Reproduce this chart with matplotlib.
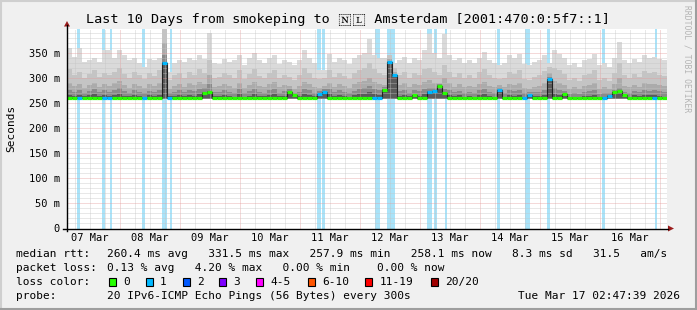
import numpy as np
import pandas as pd
import matplotlib
matplotlib.use("Agg")
import matplotlib.pyplot as plt
from matplotlib import font_manager
from matplotlib.ft2font import FT2Font
from matplotlib.patches import Rectangle, Polygon
from matplotlib.lines import Line2D

W, H = 697, 310
MONO = "DejaVu Sans Mono"

title_left = "Last 10 Days from smokeping to "
title_flag = "\U0001F1F3\U0001F1F1"
title_right = " Amsterdam [2001:470:0:5f7::1]"
start = pd.Timestamp("2026-03-07 02:47:39")
end = pd.Timestamp("2026-03-17 02:47:39")

# smoke, 2 hour bins, ms (sorted ping ranks: max, 19th, 17th, 15th, 13th of 20)
ping_max = [
    360, 342, 360, 332, 335, 340, 332, 355, 355, 340,
    355, 345, 335, 340, 330, 322, 338, 335, 340, 398,
    312, 330, 335, 332, 340, 336, 345, 338, 390, 330,
    328, 338, 332, 335, 345, 325, 340, 350, 335, 330,
    340, 345, 328, 336, 332, 325, 335, 355, 340, 330,
    315, 315, 348, 332, 340, 335, 328, 340, 345, 350,
    378, 345, 340, 340, 335, 330, 335, 342, 330, 340,
    335, 355, 388, 350, 340, 388, 345, 335, 340, 330,
    335, 330, 340, 352, 335, 330, 326, 330, 345, 340,
    348, 328, 326, 332, 335, 345, 330, 355, 348, 340,
    325, 330, 322, 335, 338, 348, 325, 330, 322, 340,
    372, 335, 330, 338, 332, 345, 340, 342, 338, 335,
]
ping_19 = [
    318, 305, 312, 300, 308, 315, 302, 310, 306, 312,
    320, 308, 300, 312, 305, 298, 310, 304, 315, 398,
    295, 305, 310, 300, 312, 306, 318, 310, 335, 300,
    302, 310, 305, 300, 315, 298, 308, 318, 304, 300,
    310, 316, 300, 306, 302, 296, 305, 320, 310, 300,
    298, 300, 315, 302, 310, 304, 298, 310, 316, 320,
    330, 318, 310, 305, 345, 320, 305, 312, 300, 310,
    305, 318, 320, 312, 305, 325, 312, 302, 310, 300,
    305, 300, 312, 318, 305, 300, 298, 300, 312, 308,
    315, 298, 296, 302, 305, 314, 322, 320, 315, 308,
    296, 300, 294, 305, 308, 316, 296, 300, 294, 310,
    330, 305, 300, 308, 302, 314, 310, 312, 306, 304,
]
ping_17 = [
    290, 284, 288, 280, 286, 290, 282, 288, 284, 290,
    294, 286, 280, 288, 284, 279, 287, 283, 290, 370,
    278, 284, 288, 281, 289, 285, 292, 287, 305, 281,
    283, 288, 284, 280, 290, 279, 286, 292, 284, 281,
    288, 291, 281, 285, 283, 278, 284, 292, 288, 281,
    280, 284, 290, 282, 288, 284, 279, 287, 291, 293,
    300, 292, 288, 286, 338, 312, 285, 289, 281, 288,
    285, 292, 295, 290, 290, 300, 289, 282, 287, 281,
    284, 281, 288, 292, 284, 281, 286, 281, 288, 286,
    290, 280, 278, 282, 284, 289, 310, 293, 290, 286,
    278, 281, 277, 284, 286, 290, 278, 281, 277, 287,
    300, 284, 281, 286, 282, 289, 287, 288, 285, 283,
]
ping_15 = [
    276, 272, 275, 270, 274, 277, 271, 275, 272, 276,
    279, 273, 270, 275, 272, 269, 274, 271, 276, 345,
    270, 272, 275, 271, 276, 273, 278, 280, 288, 271,
    272, 275, 272, 270, 277, 269, 273, 278, 272, 270,
    275, 277, 270, 273, 278, 270, 272, 278, 275, 270,
    274, 278, 277, 271, 275, 272, 269, 274, 277, 279,
    284, 278, 275, 282, 334, 308, 273, 276, 270, 275,
    273, 278, 280, 280, 288, 278, 276, 271, 274, 270,
    272, 270, 275, 278, 272, 270, 280, 270, 275, 273,
    276, 270, 272, 271, 272, 276, 302, 279, 276, 274,
    268, 270, 267, 272, 273, 276, 268, 270, 270, 275,
    280, 272, 270, 274, 271, 276, 274, 275, 273, 271,
]
ping_13 = [
    266, 264, 265, 263, 265, 267, 263, 265, 264, 266,
    268, 264, 263, 265, 264, 262, 265, 263, 266, 332,
    263, 264, 265, 263, 266, 264, 267, 272, 274, 263,
    264, 265, 264, 262, 267, 262, 264, 267, 264, 263,
    265, 267, 263, 264, 272, 266, 264, 267, 265, 263,
    268, 272, 267, 263, 265, 264, 262, 265, 267, 268,
    272, 268, 266, 277, 332, 306, 264, 266, 263, 266,
    264, 267, 273, 274, 285, 271, 266, 263, 265, 262,
    264, 262, 265, 267, 264, 262, 276, 262, 265, 264,
    266, 262, 266, 263, 264, 266, 298, 267, 266, 268,
    261, 262, 260, 264, 264, 266, 261, 262, 265, 272,
    274, 266, 262, 265, 263, 266, 265, 266, 264, 262,
]
ping_floor = 257.6

median = [
    260, 260, 260, 259, 260, 260, 260, 259, 260, 260,
    260, 260, 259, 260, 260, 260, 260, 259, 260, 330,
    260, 260, 260, 260, 259, 260, 260, 270, 272, 260,
    260, 260, 259, 260, 260, 260, 260, 259, 260, 260,
    260, 260, 260, 259, 271, 265, 260, 260, 260, 260,
    267, 271, 260, 260, 260, 259, 260, 260, 260, 260,
    260, 259, 260, 276, 332, 306, 260, 260, 259, 265,
    260, 260, 272, 273, 284, 270, 260, 260, 259, 260,
    260, 260, 260, 259, 260, 260, 276, 260, 260, 260,
    260, 259, 265, 260, 260, 260, 298, 260, 259, 268,
    260, 260, 260, 260, 260, 259, 260, 260, 264, 271,
    274, 265, 260, 260, 260, 259, 260, 260, 260, 260,
]
# lost pings (of 20) per bin
median_loss = [0] * 120
for b in [2, 7, 8, 15, 19, 20, 50, 51, 61, 62, 64, 65, 72, 73, 86, 91, 92, 96, 107, 108, 117]:
    median_loss[b] = 1

loss_start = ["03-07 06:47", "03-07 16:47", "03-07 20:00", "03-08 08:47", "03-08 16:47",
              "03-08 20:00", "03-11 06:47", "03-11 08:47", "03-12 06:00", "03-12 10:47",
              "03-13 02:47", "03-13 05:35", "03-13 10:00", "03-14 06:47", "03-14 18:00",
              "03-15 02:47", "03-16 00:47", "03-16 22:00"]
loss_end = ["03-07 07:59", "03-07 17:59", "03-07 20:47", "03-08 10:00", "03-08 18:47",
            "03-08 20:47", "03-11 08:23", "03-11 10:00", "03-12 08:00", "03-12 14:00",
            "03-13 04:47", "03-13 06:47", "03-13 10:47", "03-14 08:00", "03-14 20:00",
            "03-15 04:00", "03-16 02:00", "03-16 22:47"]

loss_labels = ["0", "1", "2", "3", "4-5", "6-10", "11-19", "20/20"]
loss_levels = [0, 1, 2, 3, 4, 6, 11, 20]
loss_colors = ["#26ff00", "#00b8ff", "#0059ff", "#7e00ff", "#ff00ff", "#ff5500", "#ff0000", "#a00000"]

rtt_stats = "260.4 ms avg   331.5 ms max   257.9 ms min   258.1 ms now   8.3 ms sd   31.5   am/s"
loss_stats = "0.13 % avg   4.20 % max   0.00 % min    0.00 % now"
probe_text = "20 IPv6-ICMP Echo Pings (56 Bytes) every 300s"
stamp = "Tue Mar 17 02:47:39 2026"


def hrs(ts):
    return (pd.Timestamp(ts) - start) / pd.Timedelta(hours=1)


def fx(x):
    return x / W


def fy(y):
    return 1 - y / H


def family_with(chars):
    # look for an installed font that really has these code points
    for path in font_manager.findSystemFonts():
        try:
            ft = FT2Font(path)
        except Exception:
            continue
        if all(ft.get_char_index(ord(c)) for c in chars):
            return font_manager.FontProperties(fname=path).get_name()
    return None


fig = plt.figure(figsize=(W / 100, H / 100), dpi=100, facecolor="#f0f0f0")

# frame shading
fig.add_artist(Line2D([0, 1], [fy(0.5), fy(0.5)], color="#cfcfcf", lw=1.5))
fig.add_artist(Line2D([fx(0.5), fx(0.5)], [0, 1], color="#cfcfcf", lw=1.5))
fig.add_artist(Line2D([0, 1], [fy(309), fy(309)], color="#9e9e9e", lw=1.5))
fig.add_artist(Line2D([fx(696), fx(696)], [0, 1], color="#9e9e9e", lw=1.5))

ax = fig.add_axes([fx(67), fy(228.5), 600 / W, 200 / H])
ax.set_facecolor("white")
for s in ax.spines.values():
    s.set_visible(False)
ax.set_xlim(0, 240)
ax.set_ylim(0, 398)

edges = np.arange(len(ping_max) + 1) * 2.0


def stepped(a):
    return np.append(a, a[-1])


# loss bars behind smoke
for s, e in zip(loss_start, loss_end):
    ax.axvspan(hrs("2026-" + s), hrs("2026-" + e), color="#a9e3f9", lw=0, zorder=1)

bands = [(ping_max, "#dadada"), (ping_19, "#c4c4c4"), (ping_17, "#ababab"),
         (ping_15, "#8a8a8a"), (ping_13, "#5a5a5a")]
for vals, col in bands:
    ax.fill_between(edges, ping_floor, stepped(vals), step="post", color=col, lw=0, zorder=2)

# grid
dots = (0, (1, 1))
six_hour = pd.date_range("2026-03-07 06:00", end, freq="6h")
for t in six_hour:
    if t.hour == 0:
        ax.axvline(hrs(t), color="#e49a9a", lw=0.72, ls=dots, alpha=0.75, zorder=3)
    else:
        ax.axvline(hrs(t), color="#c4c4c4", lw=0.72, ls=dots, alpha=0.75, zorder=3)
for v in range(10, 398, 10):
    if v % 50 == 0:
        ax.axhline(v, color="#e49a9a", lw=0.72, ls=dots, alpha=0.75, zorder=3)
    else:
        ax.axhline(v, color="#c4c4c4", lw=0.72, ls=dots, alpha=0.75, zorder=3)

# median line coloured by loss
ax.step(edges, stepped(median), where="post", color="#202020", lw=0.8, zorder=4)
seg_colors = [loss_colors[max(i for i, lv in enumerate(loss_levels) if lv <= l)] for l in median_loss]
ax.hlines(median, edges[:-1], edges[1:], colors=seg_colors, lw=2.3, zorder=5)

# ticks
noons = pd.date_range("2026-03-07 12:00", "2026-03-16 12:00", freq="D")
ax.set_xticks([hrs(t) for t in noons], [t.strftime("%d %b") for t in noons])
yt = list(range(0, 351, 50))
ax.set_yticks(yt, ["0"] + [f"{v} m" for v in yt[1:]])
ax.tick_params(length=0, labelsize=7.5, colors="#000000")
ax.tick_params(axis="y", pad=5)
ax.tick_params(axis="x", pad=3)
for lab in ax.get_xticklabels() + ax.get_yticklabels():
    lab.set_fontfamily(MONO)

# axes lines and arrows
fig.add_artist(Line2D([fx(67), fx(67)], [fy(231), fy(25)], color="black", lw=1))
fig.add_artist(Line2D([fx(63), fx(668)], [fy(228.5), fy(228.5)], color="black", lw=1))
fig.add_artist(Polygon([(fx(64), fy(26.5)), (fx(70), fy(26.5)), (fx(67), fy(21))],
                       closed=True, color="#9b1c1c", lw=0))
fig.add_artist(Polygon([(fx(668), fy(225.5)), (fx(668), fy(231.5)), (fx(674), fy(228.5))],
                       closed=True, color="#9b1c1c", lw=0))

# title
flag_family = family_with(title_flag)
if flag_family:
    fig.text(fx(348), fy(23.3), title_left + title_flag + title_right, ha="center",
             va="baseline", fontsize=9.7, family=[MONO, flag_family])
else:
    # no installed font has the flag code points: draw them as hex boxes like the original
    fig.text(fx(84), fy(23.3), title_left, ha="left", va="baseline", fontsize=9.7, family=MONO)
    fig.text(fx(372.5), fy(23.3), title_right, ha="left", va="baseline", fontsize=9.7, family=MONO)
    for bx, ch in zip([336, 355], title_flag):
        fig.add_artist(Rectangle((fx(bx), fy(25)), 14 / W, 12 / H, facecolor="none",
                                 edgecolor="black", lw=0.8))
        code = f"{ord(ch):06X}"
        fig.text(fx(bx + 7), fy(16.2), code[:3], ha="center", va="center", fontsize=3.6, family=MONO)
        fig.text(fx(bx + 7), fy(21.8), code[3:], ha="center", va="center", fontsize=3.6, family=MONO)

fig.text(fx(11), fy(128), "Seconds", rotation=90, ha="center", va="center", fontsize=8, family=MONO)
fig.text(fx(687), fy(5), "RRDTOOL / TOBI OETIKER", rotation=-90, ha="center", va="top",
         fontsize=5.8, family=MONO, color="#b4b4b4")

rows_y = [257.3, 271.3, 285.3, 299.3]
fig.text(fx(16), fy(rows_y[0]), "median rtt:", fontsize=8, family=MONO, va="baseline")
fig.text(fx(107), fy(rows_y[0]), rtt_stats, fontsize=8, family=MONO, va="baseline")
fig.text(fx(16), fy(rows_y[1]), "packet loss:", fontsize=8, family=MONO, va="baseline")
fig.text(fx(107), fy(rows_y[1]), loss_stats, fontsize=8, family=MONO, va="baseline")
fig.text(fx(16), fy(rows_y[2]), "loss color:", fontsize=8, family=MONO, va="baseline")
box_x = [108.7, 145.7, 182.7, 219, 256, 308, 365, 431]
for bx, lab, col in zip(box_x, loss_labels, loss_colors):
    fig.add_artist(Rectangle((fx(bx), fy(286)), 7 / W, 8 / H, facecolor=col,
                             edgecolor="black", lw=0.8))
    fig.text(fx(bx + 14.5), fy(rows_y[2]), lab, fontsize=8, family=MONO, va="baseline")
fig.text(fx(16), fy(rows_y[3]), "probe:", fontsize=8, family=MONO, va="baseline")
fig.text(fx(107), fy(rows_y[3]), probe_text, fontsize=8, family=MONO, va="baseline")
fig.text(fx(680), fy(rows_y[3]), stamp, fontsize=8, family=MONO, va="baseline", ha="right")

fig.savefig("out.png", dpi=100, facecolor=fig.get_facecolor())
